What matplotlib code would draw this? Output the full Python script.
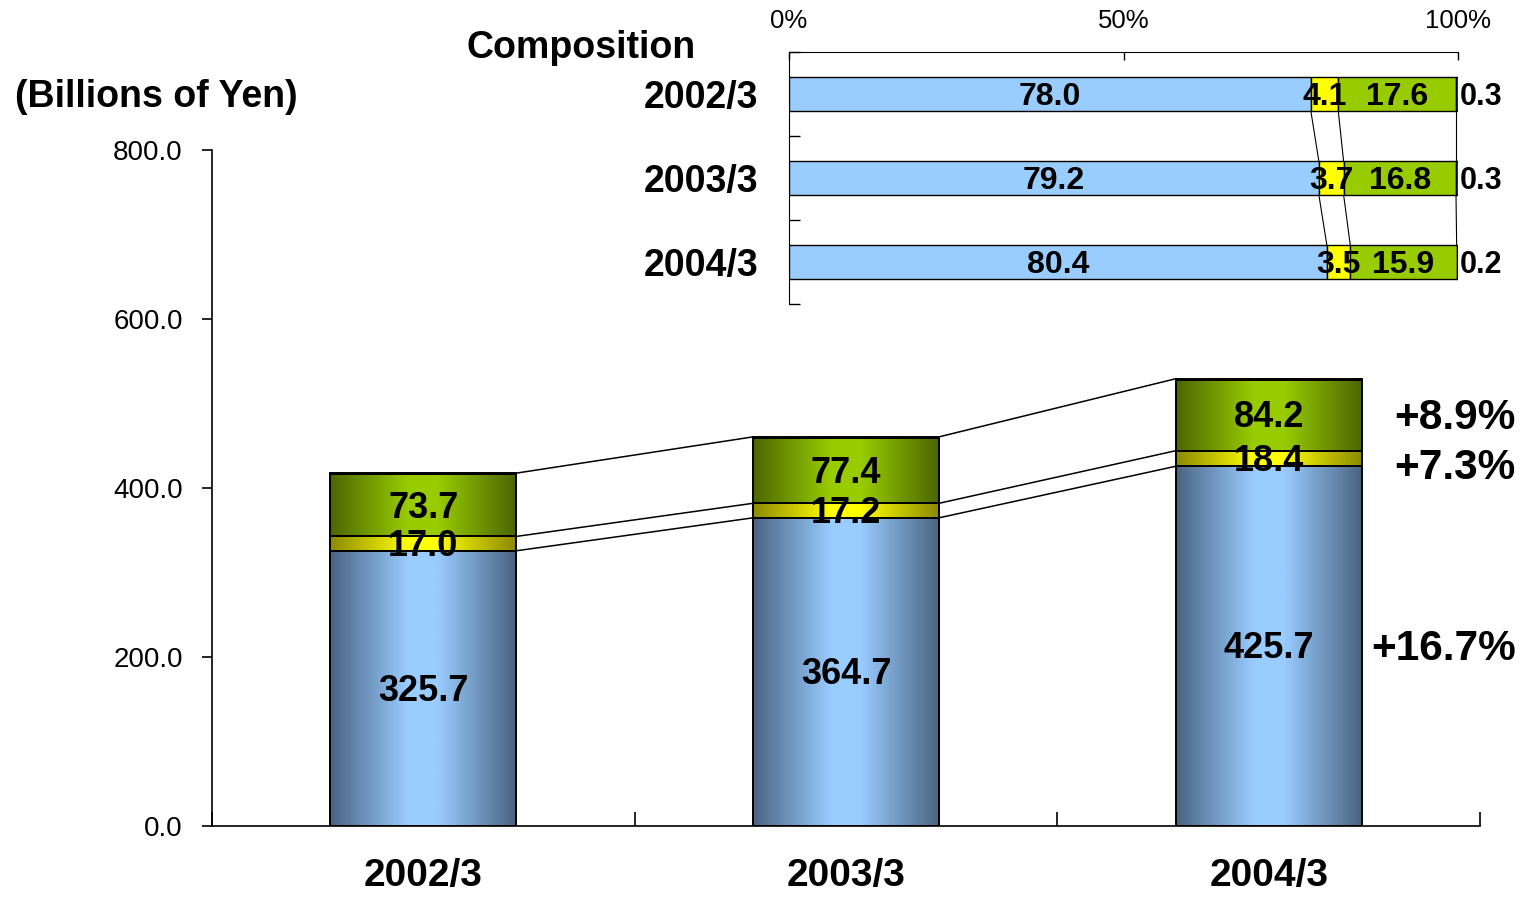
import numpy as np
import matplotlib.pyplot as plt
from matplotlib.colors import to_rgb

plt.rcParams['font.family'] = ['Liberation Sans', 'DejaVu Sans']

# ---- data: sales by segment (billions of yen) ----
years = ['2002/3', '2003/3', '2004/3']
blue_vals = [325.7, 364.7, 425.7]
yellow_vals = [17.0, 17.2, 18.4]
green_vals = [73.7, 77.4, 84.2]
other_vals = [1.2, 1.2, 1.0]
growth_labels = ['+16.7%', '+7.3%', '+8.9%']

# composition (%)
share_blue = [78.0, 79.2, 80.4]
share_yellow = [4.1, 3.7, 3.5]
share_green = [17.6, 16.8, 15.9]
share_other = [0.3, 0.3, 0.2]

y_ticks = [0, 200, 400, 600, 800]

light = {'blue': '#99CCFF', 'yellow': '#FFFF00', 'green': '#99CC00', 'other': '#4C6600'}
dark = {'blue': '#4A6482', 'yellow': '#8C8A00', 'green': '#4C6600', 'other': '#3A4E00'}


def shade(name, n=256):
    # dark edges, light band in the middle
    u = np.linspace(0, 1, n)
    f = np.clip(1 - (np.abs(u - 0.5) - 0.08) / 0.42, 0, 1)
    c0 = np.array(to_rgb(dark[name]))
    c1 = np.array(to_rgb(light[name]))
    return (c0[None, :] + (c1 - c0)[None, :] * f[:, None])[None, :, :]


def label(axis, xv, yv, s, size, ha='center', **kw):
    # digits sit a bit low in the boxes, nudge down a couple of points
    axis.annotate(s, (xv, yv), xytext=(0, -2), textcoords='offset points',
                  ha=ha, va='center', fontsize=size, fontweight='bold', **kw)


fig = plt.figure(figsize=(15.25, 9), dpi=100)

# ===============================
# main stacked bar chart
# ===============================
ax = fig.add_axes([212 / 1525, 74 / 900, 1268 / 1525, 676 / 900])
x = np.arange(len(years))
w = 0.44

series = [('blue', blue_vals), ('yellow', yellow_vals), ('green', green_vals), ('other', other_vals)]
bottom = np.zeros(len(years))
levels = []
for name, vals in series:
    vals = np.array(vals)
    bars = ax.bar(x, vals, w, bottom=bottom, facecolor='none', edgecolor='black',
                  linewidth=1.4, zorder=3)
    for b in bars:
        im = ax.imshow(shade(name), extent=(b.get_x(), b.get_x() + b.get_width(),
                                            b.get_y(), b.get_y() + b.get_height()),
                       aspect='auto', interpolation='bilinear', zorder=2)
        im.set_clip_path(b)
    if name != 'other':
        for i, v in enumerate(vals):
            label(ax, x[i], bottom[i] + v / 2, f'{v:.1f}', 26, zorder=5)
    bottom = bottom + vals
    levels.append(bottom.copy())

# connector lines between bars
for lvl in [levels[0], levels[1], levels[3]]:
    for i in range(len(years) - 1):
        ax.plot([x[i] + w / 2, x[i + 1] - w / 2], [lvl[i], lvl[i + 1]],
                color='black', linewidth=1.1, zorder=4)

# growth rates next to the last bar
mids = [levels[0][-1] / 2,
        (levels[0][-1] + levels[1][-1]) / 2 - 8,
        (levels[1][-1] + levels[2][-1]) / 2]
for lab, yv in zip(growth_labels, mids):
    label(ax, 2.585, yv, lab, 30.5, ha='right', annotation_clip=False)

ax.set_xlim(-0.5, 2.5)
ax.set_ylim(0, 800)
ax.set_yticks(y_ticks)
ax.set_yticklabels([f'{v:.1f}' for v in y_ticks], fontsize=20)
ax.tick_params(axis='y', direction='out', length=7, width=1.2, pad=14)
ax.set_xticks([-0.5, 0.5, 1.5, 2.5])
ax.set_xticklabels([])
ax.tick_params(axis='x', direction='in', length=10, width=1.2)
ax.set_xticks(x, minor=True)
ax.set_xticklabels(years, minor=True, fontsize=28, fontweight='bold')
ax.tick_params(axis='x', which='minor', length=0, pad=23)
for s in ['top', 'right']:
    ax.spines[s].set_visible(False)
ax.spines['left'].set_linewidth(1.2)
ax.spines['bottom'].set_linewidth(1.2)

fig.text(15 / 1525, 1 - 97 / 900, '(Billions of Yen)', ha='left', va='center',
         fontsize=27, fontweight='bold')
fig.text(467 / 1525, 1 - 48 / 900, 'Composition', ha='left', va='center',
         fontsize=27, fontweight='bold')

# ===============================
# composition inset (100% stacked)
# ===============================
ax2 = fig.add_axes([789 / 1525, 596 / 900, 669 / 1525, 252 / 900])
h = 0.4
yy = np.arange(len(years))
shares = [('blue', share_blue), ('yellow', share_yellow), ('green', share_green), ('other', share_other)]
left = np.zeros(len(years))
cums = []
for name, vals in shares:
    vals = np.array(vals)
    ax2.barh(yy, vals, h, left=left, color=light[name], edgecolor='black', linewidth=1, zorder=3)
    for i, v in enumerate(vals):
        if name == 'other':
            label(ax2, 100.3, yy[i], f'{v:.1f}', 22, ha='left', annotation_clip=False)
        else:
            label(ax2, left[i] + v / 2, yy[i], f'{v:.1f}', 23, zorder=5)
    left = left + vals
    cums.append(left.copy())

for lvl in cums[:3]:
    for i in range(len(years) - 1):
        ax2.plot([lvl[i], lvl[i + 1]], [yy[i] + h / 2, yy[i + 1] - h / 2],
                 color='black', linewidth=0.8, zorder=2)

ax2.set_xlim(0, 100)
ax2.set_ylim(2.5, -0.5)
ax2.xaxis.tick_top()
ax2.set_xticks([0, 50, 100])
ax2.set_xticklabels(['0%', '50%', '100%'], fontsize=18.5)
ax2.tick_params(axis='x', direction='in', length=6, width=1, pad=13.5)
ax2.set_yticks([-0.5, 0.5, 1.5, 2.5])
ax2.set_yticklabels([])
ax2.tick_params(axis='y', direction='in', length=8, width=1)
ax2.set_yticks(yy, minor=True)
ax2.set_yticklabels(years, minor=True, fontsize=27, fontweight='bold')
ax2.tick_params(axis='y', which='minor', length=0, pad=22)
for s in ['bottom', 'right']:
    ax2.spines[s].set_visible(False)

fig.savefig('out.png', dpi=100)
